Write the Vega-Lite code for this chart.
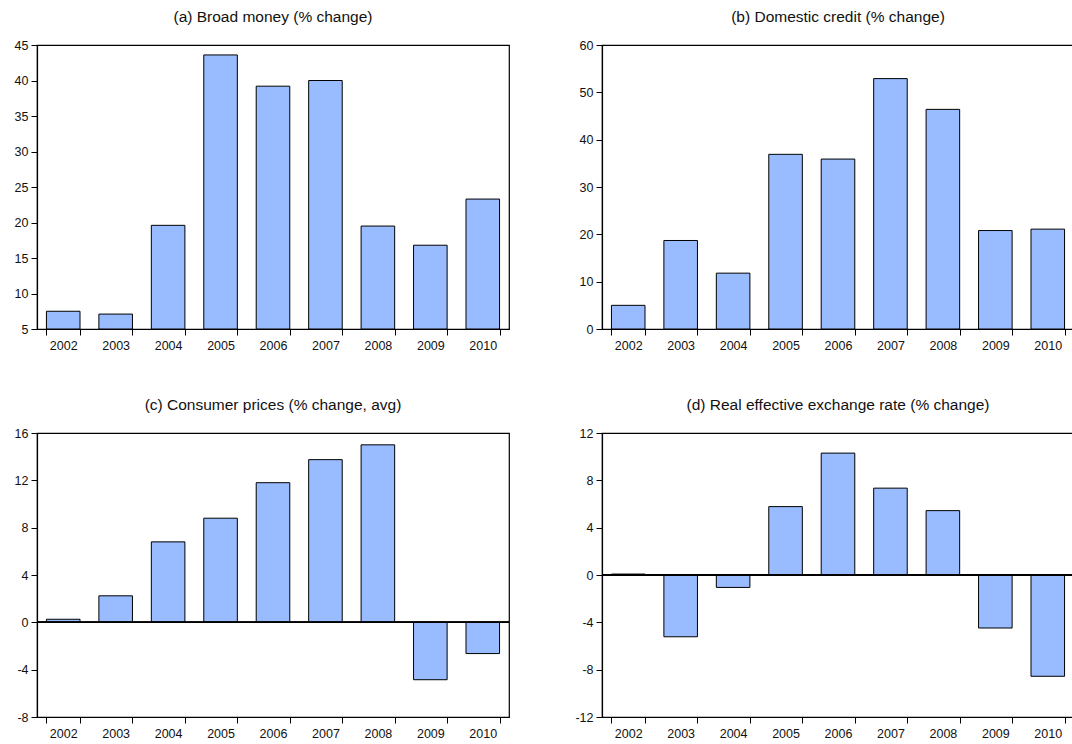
{
  "$schema": "https://vega.github.io/schema/vega-lite/v6.json",
  "padding": {"left": 13, "top": 8, "right": 0, "bottom": 0},
  "background": "white",
  "columns": 2,
  "spacing": {"row": 104, "column": 93},
  "bounds": "flush",
  "config": {
    "font": "Liberation Sans",
    "view": {"stroke": "black", "strokeWidth": 1.2},
    "axis": {
      "domainColor": "black", "tickColor": "black", "labelColor": "#111",
      "labelFont": "Liberation Sans", "labelFontSize": 12.5, "grid": false,
      "tickSize": 6, "labelPadding": 3, "title": null, "domainWidth": 1.2,
      "labelExpr": "datum.value < 0 ? '-' + abs(datum.value) : datum.label"
    },
    "axisX": {"labelAngle": 0, "tickBand": "extent", "labelPadding": 4, "labelExpr": "datum.label"},
    "title": {"font": "Liberation Sans", "fontSize": 15.5, "fontWeight": "normal", "color": "#111", "offset": 14, "frame": "group"},
    "bar": {"fill": "#99bbff", "stroke": "black", "strokeWidth": 1, "clip": true}
  },
  "datasets": {
    "a": [
      {"year": "2002", "v": 7.5}, {"year": "2003", "v": 7.1}, {"year": "2004", "v": 19.6},
      {"year": "2005", "v": 43.6}, {"year": "2006", "v": 39.2}, {"year": "2007", "v": 40.0},
      {"year": "2008", "v": 19.5}, {"year": "2009", "v": 16.8}, {"year": "2010", "v": 23.3}
    ],
    "b": [
      {"year": "2002", "v": 5.0}, {"year": "2003", "v": 18.7}, {"year": "2004", "v": 11.8},
      {"year": "2005", "v": 36.9}, {"year": "2006", "v": 35.9}, {"year": "2007", "v": 52.9},
      {"year": "2008", "v": 46.4}, {"year": "2009", "v": 20.8}, {"year": "2010", "v": 21.1}
    ],
    "c": [
      {"year": "2002", "v": 0.26}, {"year": "2003", "v": 2.24}, {"year": "2004", "v": 6.8},
      {"year": "2005", "v": 8.8}, {"year": "2006", "v": 11.8}, {"year": "2007", "v": 13.75},
      {"year": "2008", "v": 15.0}, {"year": "2009", "v": -4.85}, {"year": "2010", "v": -2.64}
    ],
    "d": [
      {"year": "2002", "v": 0.08}, {"year": "2003", "v": -5.22}, {"year": "2004", "v": -1.05},
      {"year": "2005", "v": 5.78}, {"year": "2006", "v": 10.3}, {"year": "2007", "v": 7.34},
      {"year": "2008", "v": 5.44}, {"year": "2009", "v": -4.48}, {"year": "2010", "v": -8.56}
    ]
  },
  "concat": [
    {
      "title": "(a) Broad money (% change)",
      "width": 472, "height": 284,
      "data": {"name": "a"},
      "mark": {"type": "bar"},
      "encoding": {
        "x": {"field": "year", "type": "ordinal", "scale": {"paddingInner": 0.36, "paddingOuter": 0.18}},
        "y": {"field": "v", "type": "quantitative", "scale": {"domain": [5, 45], "zero": false, "nice": false}, "axis": {"values": [5, 10, 15, 20, 25, 30, 35, 40, 45]}},
        "y2": {"datum": 5}
      }
    },
    {
      "title": "(b) Domestic credit (% change)",
      "width": 472, "height": 284,
      "data": {"name": "b"},
      "mark": {"type": "bar"},
      "encoding": {
        "x": {"field": "year", "type": "ordinal", "scale": {"paddingInner": 0.36, "paddingOuter": 0.18}},
        "y": {"field": "v", "type": "quantitative", "scale": {"domain": [0, 60], "nice": false}, "axis": {"values": [0, 10, 20, 30, 40, 50, 60]}}
      }
    },
    {
      "title": "(c) Consumer prices (% change, avg)",
      "width": 472, "height": 284,
      "data": {"name": "c"},
      "layer": [
        {
          "mark": {"type": "bar"},
          "encoding": {
            "x": {"field": "year", "type": "ordinal", "scale": {"paddingInner": 0.36, "paddingOuter": 0.18}},
            "y": {"field": "v", "type": "quantitative", "scale": {"domain": [-8, 16], "nice": false}, "axis": {"values": [-8, -4, 0, 4, 8, 12, 16]}}
          }
        },
        {
          "mark": {"type": "rule", "color": "black", "strokeWidth": 1.2},
          "encoding": {"y": {"datum": 0}}
        }
      ]
    },
    {
      "title": "(d) Real effective exchange rate (% change)",
      "width": 472, "height": 284,
      "data": {"name": "d"},
      "layer": [
        {
          "mark": {"type": "bar"},
          "encoding": {
            "x": {"field": "year", "type": "ordinal", "scale": {"paddingInner": 0.36, "paddingOuter": 0.18}},
            "y": {"field": "v", "type": "quantitative", "scale": {"domain": [-12, 12], "nice": false}, "axis": {"values": [-12, -8, -4, 0, 4, 8, 12]}}
          }
        },
        {
          "mark": {"type": "rule", "color": "black", "strokeWidth": 1.2},
          "encoding": {"y": {"datum": 0}}
        }
      ]
    }
  ]
}
